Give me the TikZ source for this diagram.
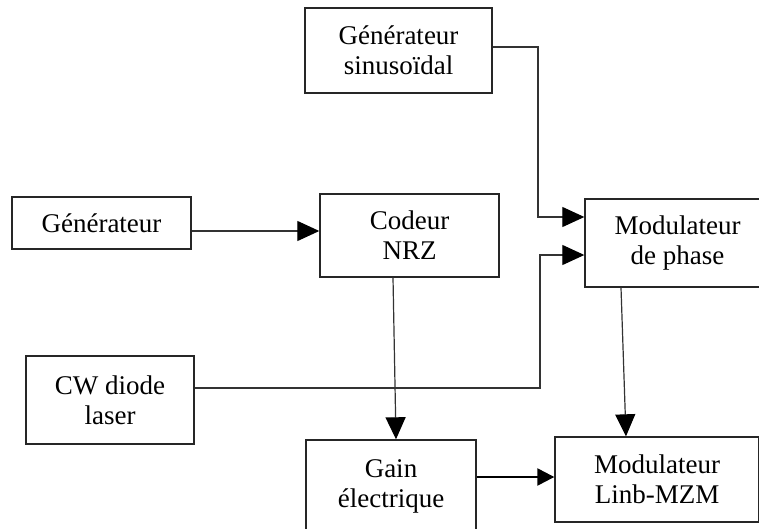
\documentclass[tikz,border=0pt]{standalone}
\usepackage{fontspec}
\setmainfont{Liberation Serif}
\usetikzlibrary{arrows.meta}

\tikzset{
  blk/.style={draw=black!85, line width=1.4pt, fill=white, align=center,
    font=\fontsize{27}{30}\selectfont, inner sep=0pt},
  conn/.style={draw=black!80, line width=1.2pt,
    -{Triangle[length=22pt,width=20pt,color=black,fill=black]}},
  thickconn/.style={draw=black, line width=2.4pt,
    -{Triangle[length=17pt,width=17pt,color=black,fill=black]}}
}

\begin{document}
\begin{tikzpicture}[x=1pt,y=-1pt]
\useasboundingbox (0,0) rectangle (759,529);
\fill[white] (0,0) rectangle (759,529);
\clip (0,0) rectangle (759,529);

% blocks
\node[blk, minimum width=187pt, minimum height=85pt] (sinus) at (398.5,50.5) {Générateur\\sinusoïdal};
\node[blk, minimum width=179pt, minimum height=52pt] (gen) at (101.5,223) {Générateur};
\node[blk, minimum width=179pt, minimum height=83pt] (codeur) at (409.5,235.5) {Codeur\\NRZ};
\node[blk, minimum width=185pt, minimum height=88pt] (modp) at (677.5,243) {Modulateur\\de phase};
\node[blk, minimum width=168pt, minimum height=88pt] (cw) at (110,400) {CW diode\\laser};
\node[blk, minimum width=170pt, minimum height=92pt] (gain) at (391,486) {Gain\\électrique};
\node[blk, minimum width=204pt, minimum height=85pt] (mzm) at (657,479.5) {Modulateur\\Linb-MZM};

% bend points and levels
\coordinate (s1) at (538,47);
\coordinate (p1) at (0,217);
\coordinate (g1) at (0,231);
\coordinate (c1) at (540,388);
\coordinate (p2) at (0,255);
\coordinate (n1) at (393,0);
\coordinate (n2) at (396,0);
\coordinate (m1) at (621,0);
\coordinate (m2) at (626,0);
\coordinate (e1) at (0,477);

% connectors
\draw[conn] (sinus.east |- s1) -- (s1) |- (modp.west |- p1);
\draw[conn] (gen.east |- g1) -- (codeur.west |- g1);
\draw[conn] (cw.east |- c1) -- (c1) |- (modp.west |- p2);
\draw[conn] (codeur.south -| n1) -- (gain.north -| n2);
\draw[conn] (modp.south -| m1) -- (mzm.north -| m2);
\draw[thickconn] (gain.east |- e1) -- (mzm.west |- e1);
\end{tikzpicture}
\end{document}
